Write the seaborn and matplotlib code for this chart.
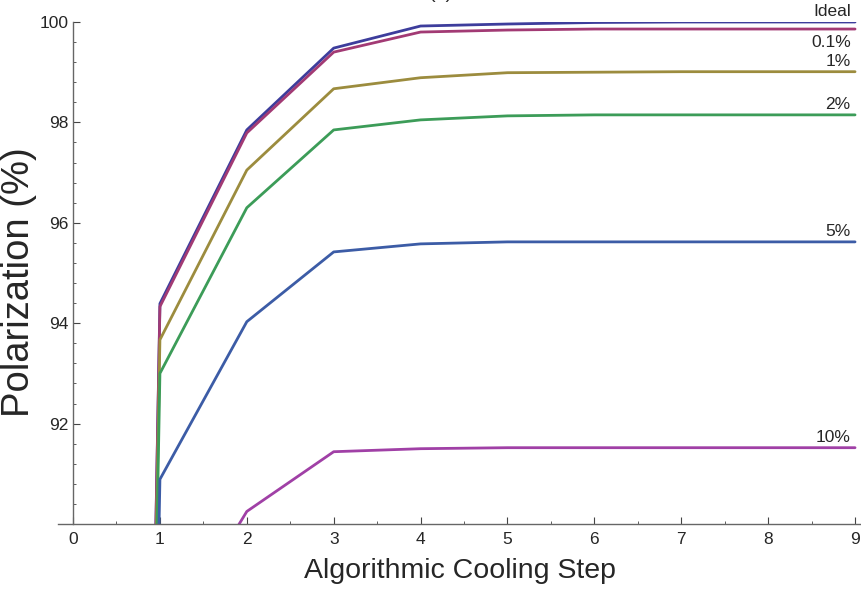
import numpy as np
import pandas as pd
import matplotlib
matplotlib.use("Agg")
import matplotlib.pyplot as plt
from matplotlib.ticker import MultipleLocator
import seaborn as sns

steps = [0, 1, 2, 3, 4, 5, 6, 7, 8, 9]
series_names = ["Ideal", "0.1%", "1%", "2%", "5%", "10%"]
ideal = [0.0, 94.39, 97.85, 99.48, 99.92, 99.96, 99.99, 100.0, 100.0, 100.0]
err_01 = [0.0, 94.33, 97.79, 99.40, 99.80, 99.84, 99.86, 99.86, 99.86, 99.86]
err_1 = [0.0, 93.67, 97.05, 98.67, 98.89, 98.99, 99.00, 99.01, 99.01, 99.01]
err_2 = [0.0, 93.00, 96.30, 97.85, 98.05, 98.13, 98.15, 98.15, 98.15, 98.15]
err_5 = [0.0, 90.89, 94.03, 95.42, 95.58, 95.62, 95.62, 95.62, 95.62, 95.62]
err_10 = [0.0, 87.40, 90.25, 91.44, 91.50, 91.52, 91.52, 91.52, 91.52, 91.52]
all_series = [ideal, err_01, err_1, err_2, err_5, err_10]
colors = ["#3d3d9c", "#a23a74", "#9c8c3e", "#3c9c58", "#3c5ca6", "#a040a6"]
# label vertical offsets (points): above or below the line
label_offsets = [2, -15, 2, 2, 2, 2]

df = pd.DataFrame({
    "step": steps * len(series_names),
    "pol": [v for s in all_series for v in s],
    "series": [n for n in series_names for _ in steps],
})

sns.set_style("ticks")
plt.rcParams["font.family"] = ["Liberation Sans", "DejaVu Sans"]

fig = plt.figure(figsize=(8.62, 5.92), dpi=100)
ax = fig.add_axes([58 / 862, 68 / 592, 804 / 862, 502 / 592])

sns.lineplot(data=df, x="step", y="pol", hue="series", hue_order=series_names,
             palette=colors, linewidth=2.0, legend=False, ax=ax, sort=False)

ax.set_xlim(-0.173, 9.08)
ax.set_ylim(90, 100)
ax.set_xticks(range(0, 10))
ax.set_yticks([92, 94, 96, 98, 100])
ax.xaxis.set_minor_locator(MultipleLocator(0.5))
ax.yaxis.set_minor_locator(MultipleLocator(0.4))
ax.tick_params(axis="both", which="major", direction="in", length=5, width=0.8,
               labelsize=12.5, color="#444444")
ax.tick_params(axis="both", which="minor", direction="in", length=2.5, width=0.6,
               color="#444444")
ax.tick_params(axis="x", pad=6)

ax.spines["left"].set_position(("data", 0))
ax.spines["top"].set_visible(False)
ax.spines["right"].set_visible(False)
for sp in ("left", "bottom"):
    ax.spines[sp].set_color("#666666")
    ax.spines[sp].set_linewidth(1.0)

ax.set_xlabel("Algorithmic Cooling Step", fontsize=20.5, labelpad=8)
ax.set_ylabel("Polarization (%)", fontsize=27.5)
ax.yaxis.set_label_coords(-0.026, 0.482)

for name, vals, off in zip(series_names, all_series, label_offsets):
    ax.annotate(name, xy=(8.95, vals[-1]), xytext=(0, off), textcoords="offset points",
                ha="right", va="bottom", fontsize=12.5, annotation_clip=False)

fig.text(0.511, 0.996, "(a)", ha="center", va="bottom", fontsize=14)

fig.savefig("out.png", dpi=100)
